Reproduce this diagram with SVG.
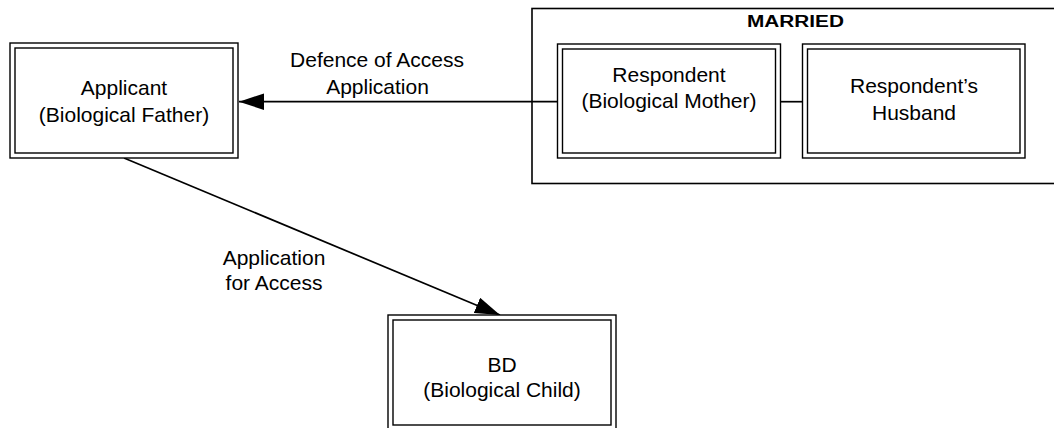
<svg xmlns="http://www.w3.org/2000/svg" width="1054" height="428" viewBox="0 0 1054 428">
<style>
.t{font-family:"Liberation Sans",Arial,sans-serif;font-size:21px;fill:#000;text-anchor:middle}
.b{font-weight:bold;font-size:16px}
.box{fill:#fff;stroke:#000;stroke-width:1.4}
.grp{fill:none;stroke:#000;stroke-width:1.6}
.ln{fill:none;stroke:#000;stroke-width:1.7}
</style>
<defs>
<marker id="ah" markerUnits="userSpaceOnUse" markerWidth="26" markerHeight="17" refX="25" refY="8.25" orient="auto">
<path d="M0,0 L25,8.25 L0,16.5 z" fill="#000"/>
</marker>
</defs>
<rect width="1054" height="428" fill="#fff"/>
<g id="married">
<rect class="grp" x="532" y="8.5" width="540" height="175"/>
<text class="t b" x="795.5" y="26.5" textLength="97" lengthAdjust="spacingAndGlyphs">MARRIED</text>
</g>
<g id="connectors">
<line class="ln" x1="557.5" y1="101.7" x2="239" y2="101.7" marker-end="url(#ah)"/>
<line class="ln" x1="780.5" y1="101.7" x2="802.5" y2="101.7"/>
<line class="ln" x1="124" y1="158" x2="500" y2="315" marker-end="url(#ah)"/>
<text class="t" x="377" y="67">Defence of Access</text>
<text class="t" x="377.5" y="94">Application</text>
<text class="t" x="274" y="265">Application</text>
<text class="t" x="274" y="290">for Access</text>
</g>
<g id="applicant">
<rect class="box" x="10" y="43" width="228" height="115"/>
<rect class="box" x="15" y="48" width="218" height="105"/>
<text class="t" x="124" y="95">Applicant</text>
<text class="t" x="124" y="122">(Biological Father)</text>
</g>
<g id="respondent">
<rect class="box" x="557.5" y="44" width="223" height="114"/>
<rect class="box" x="562.5" y="49" width="213" height="104"/>
<text class="t" x="669" y="82">Respondent</text>
<text class="t" x="669" y="108">(Biological Mother)</text>
</g>
<g id="husband">
<rect class="box" x="802.5" y="44" width="222.5" height="114"/>
<rect class="box" x="807.5" y="49" width="212.5" height="104"/>
<text class="t" x="914" y="93">Respondent’s</text>
<text class="t" x="914" y="120">Husband</text>
</g>
<g id="bd">
<rect class="box" x="388" y="315" width="228" height="115"/>
<rect class="box" x="393" y="320" width="218" height="105"/>
<text class="t" x="502" y="372">BD</text>
<text class="t" x="502" y="397">(Biological Child)</text>
</g>
</svg>
